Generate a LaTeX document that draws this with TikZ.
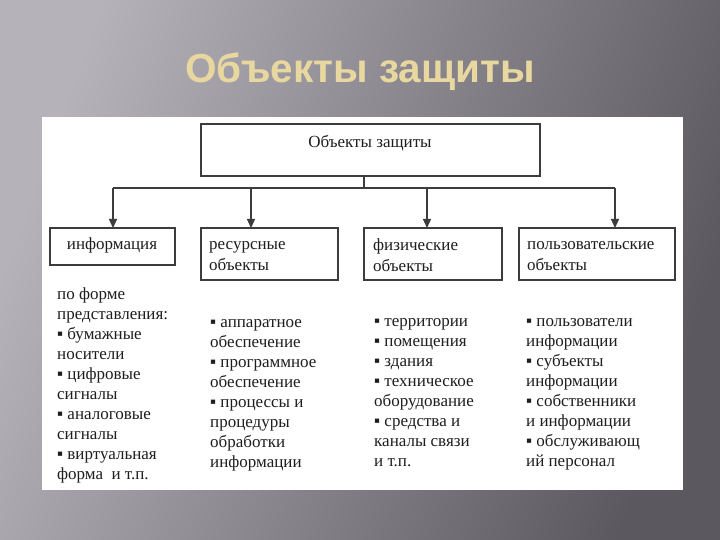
\documentclass[tikz,border=0pt]{standalone}
\usepackage{fontspec}
\setmainfont{Liberation Serif}
\newfontfamily\titlefont{Liberation Sans}
\usetikzlibrary{arrows.meta}
\definecolor{bgA}{RGB}{182,178,186}
\definecolor{bgB}{RGB}{92,88,96}
\definecolor{gold}{RGB}{232,216,160}
\definecolor{ink}{RGB}{30,30,30}
\definecolor{edge}{RGB}{60,60,60}
\tikzset{
  box/.style={draw=edge, line width=1.2pt, fill=white},
  boxtxt/.style={font=\fontsize{17}{21}\selectfont, text=ink, align=left, inner sep=0pt},
  listtxt/.style={font=\fontsize{17}{20}\selectfont, text=ink, align=left, inner sep=0pt, anchor=north west},
  conn/.style={draw=edge, line width=1.2pt},
  arr/.style={conn, -{Triangle[length=9pt,width=8pt]}}
}
\newcommand{\bul}{▪\ }
\begin{document}
\begin{tikzpicture}[x=1pt,y=-1pt]
\useasboundingbox (0,0) rectangle (720,540);
\shade[left color=bgA, right color=bgB, shading angle=70] (0,0) rectangle (720,540);
\node[font=\titlefont\bfseries\fontsize{40.5}{44}\selectfont, text=gold] (title) at (360,72) {Объекты защиты};
\fill[white] (42,117) rectangle (683,490);
% top box
\draw[box] (201,124) rectangle (540,176);
\node[boxtxt, anchor=center] (top) at (370,143) {Объекты защиты};
\coordinate (topb) at (364,176);
\coordinate (hub) at (364,188);
% child boxes
\draw[box] (50,228) rectangle (175,265);
\node[boxtxt] (info) at (112,245) {информация};
\draw[box] (201,228) rectangle (338,280);
\node[boxtxt, anchor=west] (res) at (209,256) {ресурсные\\объекты};
\draw[box] (364,228) rectangle (502,280);
\node[boxtxt, anchor=west] (phys) at (373,255) {физические\\объекты};
\draw[box] (519,228) rectangle (675,280);
\node[boxtxt, anchor=west] (user) at (527,256) {пользовательские\\объекты};
\coordinate (a1) at (113,228);
\coordinate (a2) at (251,228);
\coordinate (a3) at (427,228);
\coordinate (a4) at (615,228);
\draw[conn] (topb) -- (hub);
\draw[conn] (113,188) -- (615,188);
\draw[arr] (113,188) -- (a1);
\draw[arr] (251,188) -- (a2);
\draw[arr] (427,188) -- (a3);
\draw[arr] (615,188) -- (a4);
% lists
\node[listtxt] (l1) at (57,288) {по форме\\представления:\\\bul бумажные\\носители\\\bul цифровые\\сигналы\\\bul аналоговые\\сигналы\\\bul виртуальная\\форма~~и т.п.};
\node[listtxt] (l2) at (210,319) {\bul аппаратное\\обеспечение\\\bul программное\\обеспечение\\\bul процессы и\\процедуры\\обработки\\информации};
\node[listtxt] (l3) at (374,318) {\bul территории\\\bul помещения\\\bul здания\\\bul техническое\\оборудование\\\bul средства и\\каналы связи\\и т.п.};
\node[listtxt] (l4) at (526,318) {\bul пользователи\\информации\\\bul субъекты\\информации\\\bul собственники\\и информации\\\bul обслуживающ\\ий персонал};
\end{tikzpicture}
\end{document}
